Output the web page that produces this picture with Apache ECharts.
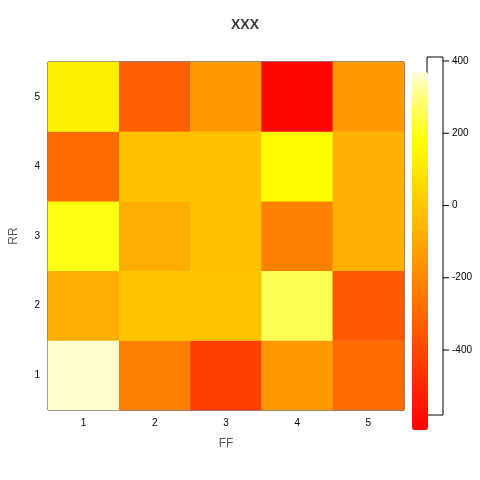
<!DOCTYPE html>
<html><head><meta charset="utf-8">
<script src="https://cdn.jsdelivr.net/npm/echarts@6/dist/echarts.min.js"></script>
<style>body{margin:0}#c{width:480px;height:480px}</style></head>
<body><div id="c"></div>
<script>
var ff = ['1', '2', '3', '4', '5'];
var rr = ['1', '2', '3', '4', '5'];
// rows by RR (1..5), columns by FF (1..5)
var z = [
  [400, -180, -380, -100, -240],
  [-40, 30, 30, 300, -300],
  [230, -40, 20, -180, -30],
  [-250, 20, 20, 200, -30],
  [170, -280, -100, -560, -100]
];
var cells = [];
for (var i = 0; i < rr.length; i++) {
  for (var j = 0; j < ff.length; j++) {
    cells.push([j, i, z[i][j]]);
  }
}
var heat = ['#FF0000', '#FF1500', '#FF2B00', '#FF4000', '#FF5500', '#FF6A00', '#FF8000', '#FF9500',
  '#FFAA00', '#FFBF00', '#FFD400', '#FFEA00', '#FFFF00', '#FFFF40', '#FFFF80', '#FFFFE0'];
var txt = {color: '#000', fontSize: 10, fontFamily: 'Liberation Sans'};
var chart = echarts.init(document.getElementById('c'));
chart.setOption({
  animation: false,
  title: {text: 'XXX', left: 240, top: 13, textAlign: 'center',
    textStyle: {fontSize: 14, fontWeight: 'bold', fontFamily: 'Liberation Sans'}},
  grid: {left: 44, right: 76, top: 62, bottom: 70, show: true, borderColor: '#000', borderWidth: 1},
  xAxis: [{type: 'category', data: ff, name: 'FF', nameLocation: 'middle', nameGap: 28,
    nameTextStyle: {fontSize: 12, fontFamily: 'Liberation Sans'},
    axisLine: {show: false}, axisTick: {alignWithLabel: true, length: 5, inside: false, lineStyle: {color: '#000'}},
    axisLabel: txt},
    {type: 'category', data: ff, position: 'top', axisLine: {show: false},
      axisTick: {alignWithLabel: true, length: 5, lineStyle: {color: '#000'}}, axisLabel: {show: false}}],
  yAxis: [{type: 'category', data: rr, name: 'RR', nameLocation: 'middle', nameGap: 28,
    nameTextStyle: {fontSize: 12, fontFamily: 'Liberation Sans'},
    axisLine: {show: false}, axisTick: {alignWithLabel: true, length: 5, lineStyle: {color: '#000'}},
    axisLabel: txt},
    {type: 'category', data: rr, position: 'right', axisLine: {show: false},
      axisTick: {alignWithLabel: true, length: 5, lineStyle: {color: '#000'}}, axisLabel: {show: false}}],
  visualMap: {type: 'continuous', min: -580, max: 411, calculable: false, right: 37, top: 57,
    itemWidth: 16, itemHeight: 358, text: ['', ''], showLabel: false,
    inRange: {color: heat}, borderColor: '#000'},
  graphic: [-400, -200, 0, 200, 400].map(function (v) {
    var y = 415 - (v + 580) / 991 * 358;
    return {type: 'group', children: [
      {type: 'line', shape: {x1: 443, y1: y, x2: 449, y2: y}, style: {stroke: '#000'}},
      {type: 'text', x: 452, y: y, style: {text: String(v), fontSize: 10, fontFamily: 'Liberation Sans', verticalAlign: 'middle'}}
    ]};
  }).concat([{type: 'rect', shape: {x: 427, y: 57, width: 16, height: 358}, style: {fill: 'none', stroke: '#000'}}]),
  series: [{type: 'heatmap', data: cells}]
});
</script></body></html>
